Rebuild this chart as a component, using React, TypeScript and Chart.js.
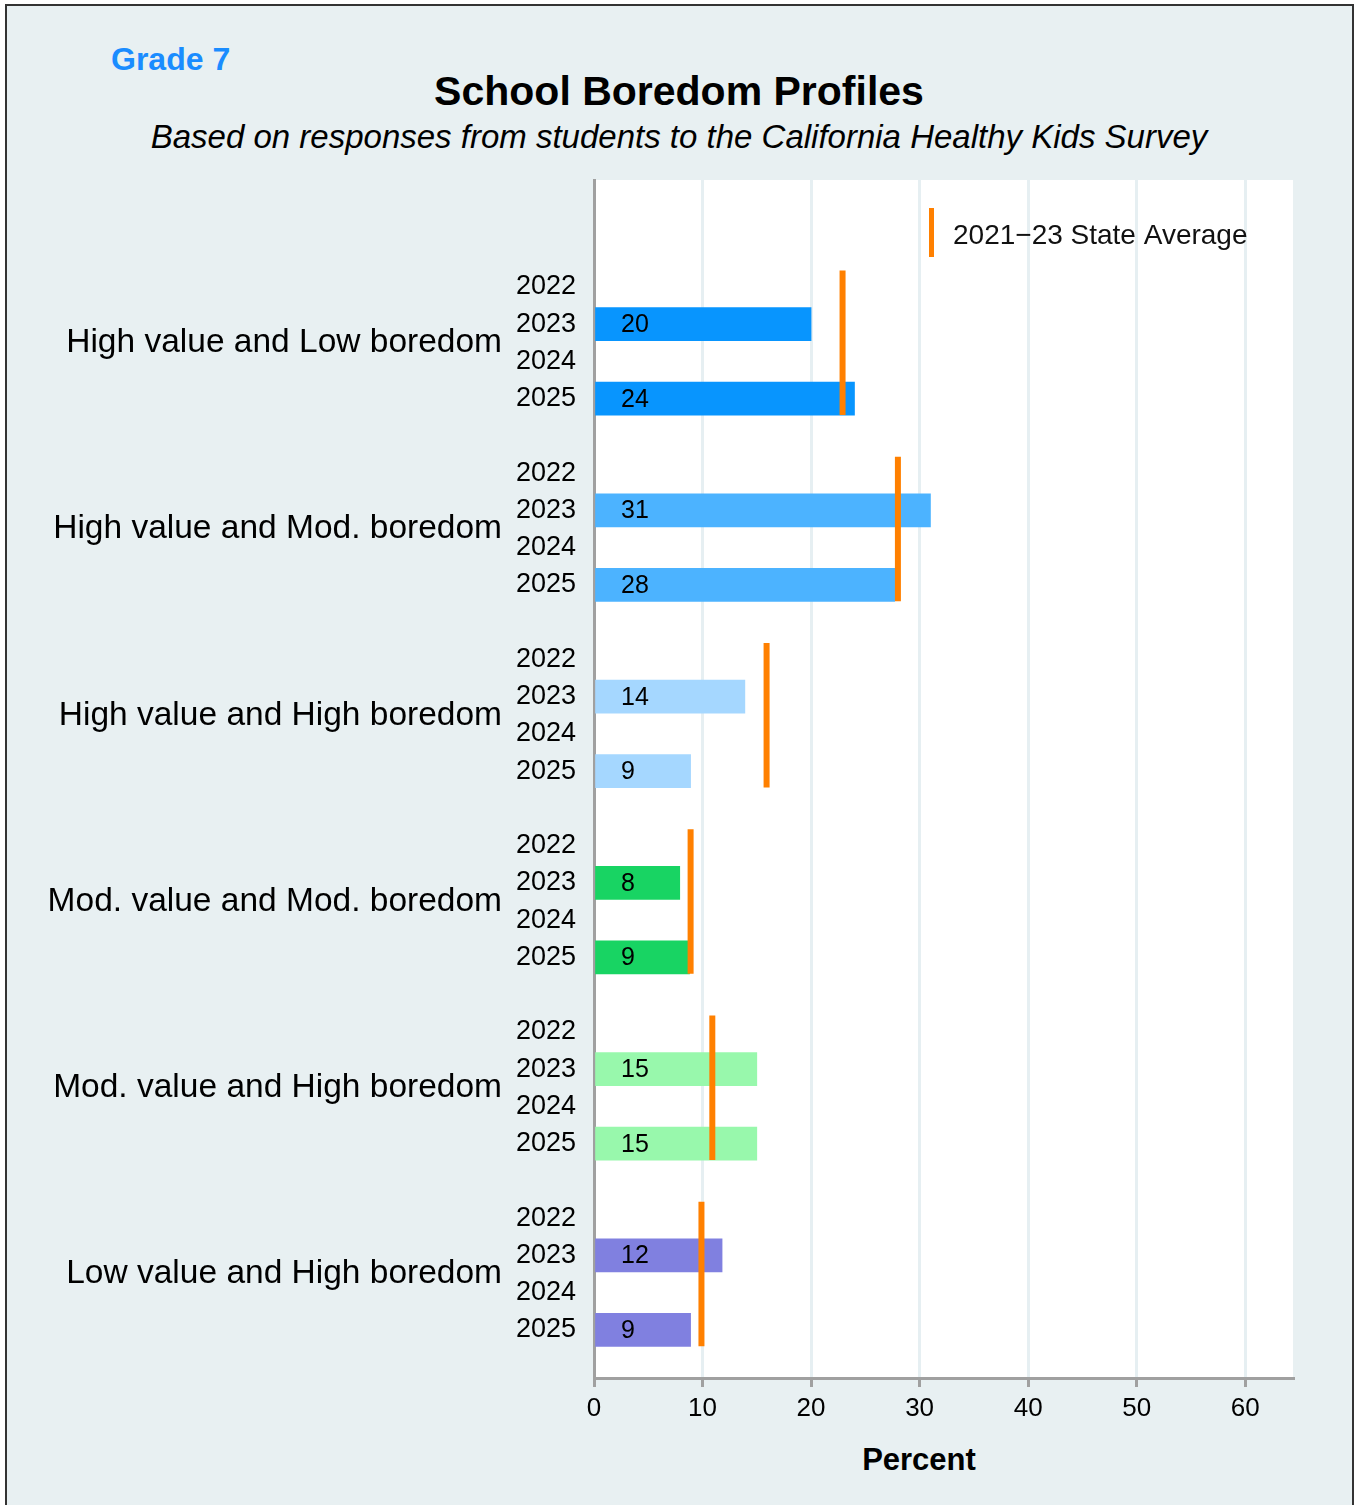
import React, { useEffect, useRef } from "react";
import { Chart, registerables } from "chart.js";

Chart.register(...registerables);

// ---------- data ----------
const groups = [
  "High value and Low boredom",
  "High value and Mod. boredom",
  "High value and High boredom",
  "Mod. value and Mod. boredom",
  "Mod. value and High boredom",
  "Low value and High boredom",
];
const years = ["2022", "2023", "2024", "2025"];
const values2023 = [20, 31, 13.9, 7.9, 15, 11.8];
const values2025 = [24, 27.7, 8.9, 8.8, 15, 8.9];
const stateAverage = [22.9, 28, 15.9, 8.9, 10.9, 9.9];
const groupColors = ["#0895fe", "#4cb3ff", "#a5d7ff", "#18d463", "#98f8ac", "#8080e0"];
const xTicks = [0, 10, 20, 30, 40, 50, 60];
const legendLabel = "2021\u221223 State Average";

// ---------- layout helpers ----------
const ROWS_PER_GROUP = 5; // 4 years + 1 gap row
const FONT = "'Liberation Sans', Arial, Helvetica, sans-serif";
const AXIS_GREY = "#a0a0a0";
const ORANGE = "#ff8000";

const rowPos = (g: number, k: number) => g * ROWS_PER_GROUP + k;

const barPoints: { x: number; y: number }[] = [];
const barColors: string[] = [];
groups.forEach((_, g) => {
  barPoints.push({ x: values2023[g], y: rowPos(g, 1) });
  barColors.push(groupColors[g]);
  barPoints.push({ x: values2025[g], y: rowPos(g, 3) });
  barColors.push(groupColors[g]);
});

const yearTickValues: number[] = [];
groups.forEach((_, g) => years.forEach((__, k) => yearTickValues.push(rowPos(g, k))));
const groupTickValues = groups.map((_, g) => rowPos(g, 1.5));

const Y_MIN = -2.87;
const Y_MAX = 29.29;

const plotBgPlugin = {
  id: "plotBg",
  beforeDraw(chart: any) {
    const { ctx, chartArea: a } = chart;
    ctx.save();
    ctx.fillStyle = "#ffffff";
    ctx.fillRect(a.left, a.top, a.right - a.left, a.bottom - a.top);
    ctx.restore();
  },
};

const labelsPlugin = {
  id: "barLabels",
  afterDatasetsDraw(chart: any) {
    const { ctx, chartArea: a } = chart;
    const meta = chart.getDatasetMeta(0);
    ctx.save();
    ctx.font = `25px ${FONT}`;
    ctx.fillStyle = "#000";
    ctx.textAlign = "left";
    ctx.textBaseline = "middle";
    meta.data.forEach((el: any, i: number) => {
      const v = barPoints[i].x;
      ctx.fillText(String(Math.round(v)), a.left + 27, el.y + 1);
    });
    ctx.restore();
  },
};

const legendPlugin = {
  id: "avgLegend",
  afterDraw(chart: any) {
    const { ctx, chartArea: a } = chart;
    ctx.save();
    ctx.fillStyle = ORANGE;
    ctx.fillRect(a.right - 364, a.top + 28, 5, 49);
    ctx.font = `28px ${FONT}`;
    ctx.fillStyle = "#111";
    ctx.textAlign = "left";
    ctx.textBaseline = "middle";
    ctx.fillText(legendLabel, a.right - 340, a.top + 56);
    ctx.restore();
  },
};

export default function App() {
  const canvasRef = useRef<HTMLCanvasElement | null>(null);

  useEffect(() => {
    document.documentElement.style.overflow = "hidden";
    const canvas = canvasRef.current;
    if (!canvas) return;

    const avgDatasets = stateAverage.map((avg, g) => ({
      type: "line" as const,
      data: [
        { x: avg, y: rowPos(g, 0) - 0.44 },
        { x: avg, y: rowPos(g, 3) + 0.44 },
      ],
      borderColor: ORANGE,
      borderWidth: 6,
      borderCapStyle: "butt" as const,
      pointRadius: 0,
      fill: false,
      order: 0,
      xAxisID: "x",
      yAxisID: "y",
    }));

    const chart = new Chart(canvas, {
      type: "bar",
      data: {
        datasets: [
          {
            type: "bar",
            data: barPoints as any,
            backgroundColor: barColors,
            borderWidth: 0,
            barThickness: 33,
            grouped: false,
            order: 1,
            xAxisID: "x",
            yAxisID: "y",
          } as any,
          ...(avgDatasets as any[]),
        ],
      },
      options: {
        indexAxis: "y",
        responsive: false,
        animation: false,
        events: [],
        font: { family: FONT },
        layout: { padding: { top: 180, left: 0, right: 63, bottom: 67 } },
        plugins: {
          legend: { display: false },
          tooltip: { enabled: false },
          title: { display: false },
        },
        scales: {
          x: {
            type: "linear",
            position: "bottom",
            min: 0,
            max: 64.4,
            offset: false,
            afterBuildTicks: (s: any) => {
              s.ticks = xTicks.map((v) => ({ value: v }));
            },
            afterFit: (s: any) => {
              s.height = 60;
            },
            grid: {
              color: "#e6eff2",
              lineWidth: 3,
              tickColor: AXIS_GREY,
              tickWidth: 3,
              tickLength: 9,
              drawTicks: true,
              offset: false,
            },
            border: { display: true, color: AXIS_GREY, width: 3 },
            ticks: {
              padding: 6,
              color: "#000",
              maxRotation: 0,
              autoSkip: false,
              font: { size: 26, family: FONT },
            },
          },
          y: {
            type: "linear",
            position: "left",
            reverse: true,
            min: Y_MIN,
            max: Y_MAX,
            offset: false,
            bounds: "data",
            weight: 0,
            z: 1,
            afterBuildTicks: (s: any) => {
              s.ticks = yearTickValues.map((v) => ({ value: v }));
            },
            afterFit: (s: any) => {
              s.width = 89;
            },
            grid: { display: false, drawTicks: false, offset: false },
            border: { display: true, color: AXIS_GREY, width: 3 },
            ticks: {
              autoSkip: false,
              padding: 18,
              color: "#000",
              font: { size: 27, family: FONT },
              callback: (v: any) => years[((Math.round(v) % ROWS_PER_GROUP) + ROWS_PER_GROUP) % ROWS_PER_GROUP] ?? "",
            },
          },
          groupAxis: {
            type: "linear",
            position: "left",
            reverse: true,
            min: Y_MIN,
            max: Y_MAX,
            offset: false,
            bounds: "data",
            weight: 1,
            afterBuildTicks: (s: any) => {
              s.ticks = groupTickValues.map((v) => ({ value: v }));
            },
            afterFit: (s: any) => {
              s.width = 505;
            },
            grid: { display: false, drawTicks: false, offset: false },
            border: { display: false },
            ticks: {
              autoSkip: false,
              padding: 3,
              color: "#000",
              font: { size: 33.5, family: FONT },
              callback: (v: any) => groups[Math.floor(Number(v) / ROWS_PER_GROUP)] ?? "",
            },
          },
        },
      } as any,
      plugins: [plotBgPlugin, labelsPlugin, legendPlugin],
    });

    return () => chart.destroy();
  }, []);

  const abs = (extra: React.CSSProperties): React.CSSProperties => ({
    position: "absolute",
    margin: 0,
    whiteSpace: "nowrap",
    fontFamily: FONT,
    ...extra,
  });

  return (
    <div>
      <div
        style={abs({
          left: 5,
          top: 4,
          width: 1349,
          height: 1520,
          boxSizing: "border-box",
          border: "2px solid #333",
          background: "#e8f0f2",
        })}
      />
      <div style={abs({ left: 111, top: 43, fontSize: 32, lineHeight: "32px", fontWeight: 700, color: "#1a8cff" })}>
        Grade 7
      </div>
      <div style={abs({ left: 279, width: 800, top: 70.5, fontSize: 41, lineHeight: "41px", fontWeight: 700, color: "#000", textAlign: "center" })}>
        School Boredom Profiles
      </div>
      <div style={abs({ left: 79, width: 1200, top: 119.5, fontSize: 33, lineHeight: "33px", fontStyle: "italic", color: "#000", textAlign: "center" })}>
        Based on responses from students to the California Healthy Kids Survey
      </div>
      <div style={abs({ left: 769, width: 300, top: 1444, fontSize: 31, lineHeight: "31px", fontWeight: 700, color: "#000", textAlign: "center" })}>
        Percent
      </div>
      <canvas
        ref={canvasRef}
        width={1356}
        height={1505}
        style={{ position: "absolute", left: 0, top: 0, width: 1356, height: 1505 }}
      />
    </div>
  );
}
